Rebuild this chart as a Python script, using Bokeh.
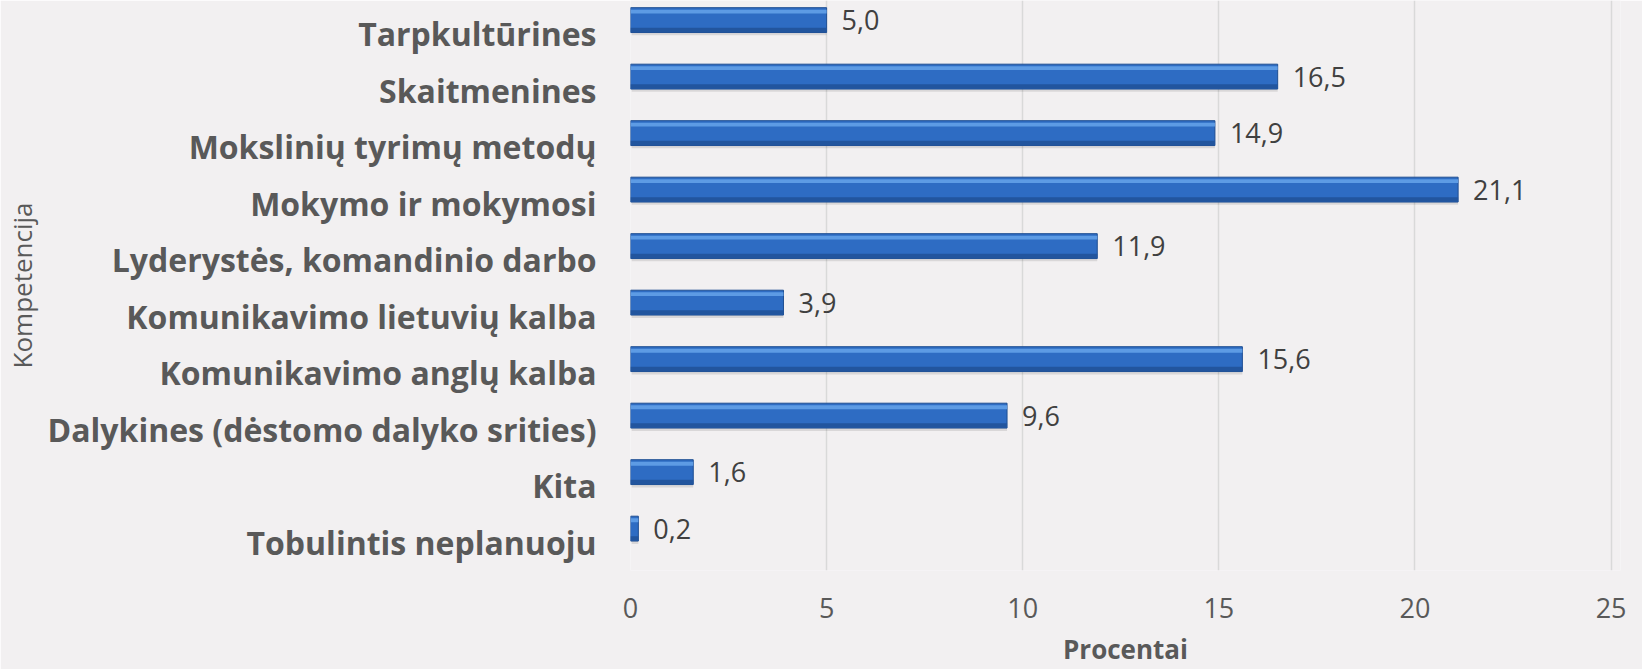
from bokeh.plotting import figure
from bokeh.models import Range1d, FixedTicker, ColumnDataSource, LabelSet
from bokeh.transform import dodge
from bokeh.core.properties import value
from bokeh.embed import file_html
from bokeh.resources import INLINE

# Data (top to bottom as in the chart)
categories = [
    "Tarpkultūrines",
    "Skaitmenines",
    "Mokslinių tyrimų metodų",
    "Mokymo ir mokymosi",
    "Lyderystės, komandinio darbo",
    "Komunikavimo lietuvių kalba",
    "Komunikavimo anglų kalba",
    "Dalykines (dėstomo dalyko srities)",
    "Kita",
    "Tobulintis neplanuoju",
]
values = [5.0, 16.5, 14.9, 21.1, 11.9, 3.9, 15.6, 9.6, 1.6, 0.2]
x_ticks = [0, 5, 10, 15, 20, 25]
x_title = "Procentai"
y_title = "Kompetencija"

n = len(categories)
ypos = [n - 1 - i for i in range(n)]
labels = [f"{v:.1f}".replace(".", ",") for v in values]
src = ColumnDataSource(dict(y=ypos, v=values, lab=labels, cat=categories))

BG = "#f2f0f1"
FONT = "Open Sans"

yr = Range1d(-0.503, 9.585)
xr = Range1d(0, 25.24)
p = figure(width=1642, height=669, output_backend="svg", toolbar_location=None,
           x_range=xr, y_range=yr,
           min_border_left=629, min_border_right=22, min_border_top=0,
           min_border_bottom=97)
p.background_fill_color = BG
p.border_fill_color = BG
p.outline_line_color = None

H = 0.44
OFF = 0.238  # bar sits in upper part of each category band
# shadow
p.hbar(y=dodge("y", OFF - 0.05, range=yr), right="v", left=0.03, height=H,
       source=src, fill_color="#000000", fill_alpha=0.10, line_color=None)
# main bar
p.hbar(y=dodge("y", OFF, range=yr), right="v", left=0, height=H, source=src,
       fill_color="#2e6cc3", line_color="#1f4f93", line_width=1)
# top highlight
p.hbar(y=dodge("y", OFF + H / 2 - 0.07, range=yr), right="v", left=0, height=0.07,
       source=src, fill_color="#5d9be4", line_color=None)
# bottom dark edge
p.hbar(y=dodge("y", OFF - H / 2 + 0.045, range=yr), right="v", left=0, height=0.08,
       source=src, fill_color="#22559e", line_color=None)

lbl = LabelSet(x="v", y=dodge("y", OFF, range=yr), text="lab", source=src,
               x_offset=15, y_offset=0, text_baseline="middle", text_align="left",
               text_font_size="27px", text_color="#404040", text_font=value(FONT))
p.add_layout(lbl)

# axes
p.xaxis.ticker = FixedTicker(ticks=x_ticks)
p.xaxis.axis_line_color = None
p.xaxis.major_tick_line_color = None
p.xaxis.minor_tick_line_color = None
p.xaxis.major_tick_out = 0
p.xaxis.major_tick_in = 0
p.xaxis.major_label_text_font = FONT
p.xaxis.major_label_text_font_size = "27px"
p.xaxis.major_label_text_color = "#595959"
p.xaxis.major_label_standoff = 27
p.xaxis.axis_label = x_title
p.xaxis.axis_label_text_font = FONT
p.xaxis.axis_label_text_font_size = "26px"
p.xaxis.axis_label_text_font_style = "bold"
p.xaxis.axis_label_text_color = "#595959"
p.xaxis.axis_label_standoff = 10

p.yaxis.ticker = FixedTicker(ticks=ypos)
p.yaxis.major_label_overrides = {yy: c for yy, c in zip(ypos, categories)}
p.yaxis.axis_line_color = None
p.yaxis.major_tick_line_color = None
p.yaxis.minor_tick_line_color = None
p.yaxis.major_tick_out = 0
p.yaxis.major_tick_in = 0
p.yaxis.major_label_text_font = FONT
p.yaxis.major_label_text_font_size = "32px"
p.yaxis.major_label_text_font_style = "bold"
p.yaxis.major_label_text_color = "#595959"
p.yaxis.major_label_standoff = 34
p.yaxis.axis_label = y_title
p.yaxis.axis_label_text_font = FONT
p.yaxis.axis_label_text_font_size = "26px"
p.yaxis.axis_label_text_font_style = "normal"
p.yaxis.axis_label_text_color = "#595959"
p.yaxis.axis_label_standoff = 5

p.xgrid.ticker = FixedTicker(ticks=x_ticks)
p.xgrid.grid_line_color = "#d9d9d9"
p.xgrid.grid_line_width = 1.5
p.ygrid.grid_line_color = None

open("out.html", "w").write(file_html(p, INLINE))
